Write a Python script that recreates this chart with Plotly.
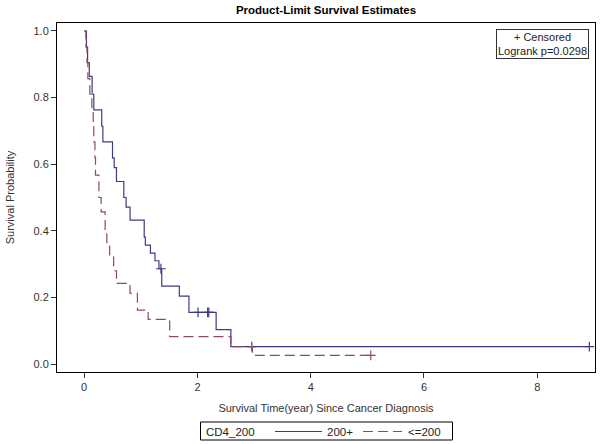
import plotly.graph_objects as go

# ---- data ----
# CD4_200 = 200+  : step times (years) and survival after each step
hi_times = [0, 0.04, 0.06, 0.09, 0.14, 0.17, 0.31, 0.33, 0.50, 0.53, 0.57, 0.70, 0.74, 0.81,
            1.06, 1.08, 1.17, 1.25, 1.32, 1.37, 1.68, 1.85, 2.33, 2.59]
hi_surv = [1.0, 0.952, 0.905, 0.864, 0.81, 0.763, 0.714, 0.667, 0.619, 0.59, 0.548, 0.50, 0.471, 0.432,
           0.381, 0.357, 0.333, 0.31, 0.286, 0.234, 0.204, 0.155, 0.103, 0.052]
hi_end = 8.92
hi_censored = [1.355, 2.01, 2.18, 2.20, 2.96, 8.92]

# CD4_200 = <=200
lo_times = [0, 0.03, 0.05, 0.065, 0.10, 0.135, 0.16, 0.17, 0.19, 0.20, 0.26, 0.30, 0.37, 0.40,
            0.45, 0.52, 0.57, 0.81, 0.94, 1.13, 1.51, 2.59, 2.97]
lo_surv = [1.0, 0.952, 0.905, 0.857, 0.81, 0.762, 0.714, 0.667, 0.619, 0.567, 0.50, 0.457, 0.40, 0.36,
           0.322, 0.28, 0.242, 0.212, 0.162, 0.134, 0.082, 0.052, 0.026]
lo_end = 5.06
lo_censored = [5.06]

group_names = ["200+", "<=200"]
legend_title = "CD4_200"
x_ticks = [0, 2, 4, 6, 8]
y_ticks = [0.0, 0.2, 0.4, 0.6, 0.8, 1.0]
logrank_p = "0.0298"

BLUE = "#3c3c86"
RED = "#8e4a5e"
FONT = "Liberation Sans, Arial, sans-serif"
RED_DASH = "10px,5px"


def step_value(times, surv, t):
    v = surv[0]
    for ti, si in zip(times, surv):
        if ti <= t:
            v = si
    return v


fig = go.Figure()

for times, surv, end, cens, name, color, dash in [
    (hi_times, hi_surv, hi_end, hi_censored, group_names[0], BLUE, "solid"),
    (lo_times, lo_surv, lo_end, lo_censored, group_names[1], RED, RED_DASH),
]:
    xs = list(times) + [end]
    ys = list(surv) + [surv[-1]]
    fig.add_trace(go.Scatter(
        x=xs, y=ys, mode="lines", name=name, showlegend=False,
        line=dict(color=color, width=1.2, dash=dash, shape="hv"),
    ))
    fig.add_trace(go.Scatter(
        x=cens, y=[step_value(times, surv, c) for c in cens], mode="markers",
        showlegend=False, hoverinfo="skip",
        marker=dict(symbol="cross-thin", size=7, line=dict(color=color, width=1.2)),
    ))

# plot area in pixels: x 57..595, y 23..372
PL, PR, PT, PB = 57, 595, 23, 372


def px(xp):
    return (xp - PL) / (PR - PL)


def py(yp):
    return (PB - yp) / (PB - PT)


fig.update_layout(
    width=600, height=444,
    margin=dict(l=PL, r=600 - PR, t=PT, b=444 - PB, autoexpand=False),
    paper_bgcolor="white", plot_bgcolor="white",
    font=dict(family=FONT, size=11, color="#333333"),
    title=dict(text="<b>Product-Limit Survival Estimates</b>", xref="paper", x=0.5, xanchor="center",
               y=0.977, yanchor="middle", font=dict(size=11.5, color="black", family=FONT)),
    showlegend=False,
)

fig.update_xaxes(
    range=[-0.48, 9.02], tickvals=x_ticks, ticks="outside", ticklen=5, tickcolor="#333",
    showline=True, linecolor="black", linewidth=1, mirror=True, showgrid=False, zeroline=False,
    title=dict(text="Survival Time(year) Since Cancer Diagnosis", standoff=12,
               font=dict(size=11, color="#333333")),
)
fig.update_yaxes(
    range=[-0.024, 1.024], tickvals=y_ticks, tickformat=".1f", ticks="outside", ticklen=5,
    tickcolor="#333", showline=True, linecolor="black", linewidth=1, mirror=True,
    showgrid=False, zeroline=False,
    title=dict(text="Survival Probability", standoff=16, font=dict(size=11, color="#333333")),
)

# inset box: censored / logrank
fig.add_annotation(
    xref="paper", yref="paper", x=px(589), y=py(29.5), xanchor="right", yanchor="top",
    text="+ Censored<br>Logrank p=" + logrank_p, showarrow=False, align="center",
    bordercolor="#333", borderwidth=1, borderpad=1, bgcolor="white",
    font=dict(size=11, color="#222222", family=FONT),
)

# legend box at the bottom (drawn like the SAS legend)
LEG_Y = 431.5
LEG_FONT = dict(size=11.5, color="#222222", family=FONT)
fig.add_shape(type="rect", xref="paper", yref="paper",
              x0=px(200.5), x1=px(452.5), y0=py(440), y1=py(422),
              line=dict(color="black", width=1), fillcolor="white", layer="above")
fig.add_annotation(xref="paper", yref="paper", x=px(204), y=py(LEG_Y), xanchor="left",
                   yanchor="middle", text=legend_title, showarrow=False, font=LEG_FONT)
fig.add_shape(type="line", xref="paper", yref="paper", x0=px(275), x1=px(322),
              y0=py(LEG_Y), y1=py(LEG_Y), line=dict(color=BLUE, width=1.2))
fig.add_annotation(xref="paper", yref="paper", x=px(325), y=py(LEG_Y), xanchor="left",
                   yanchor="middle", text=group_names[0], showarrow=False, font=LEG_FONT)
fig.add_shape(type="line", xref="paper", yref="paper", x0=px(363), x1=px(402),
              y0=py(LEG_Y), y1=py(LEG_Y), line=dict(color=RED, width=1.2, dash=RED_DASH))
fig.add_annotation(xref="paper", yref="paper", x=px(406), y=py(LEG_Y), xanchor="left",
                   yanchor="middle", text=group_names[1], showarrow=False, font=LEG_FONT)

fig.write_html("out.html", config={"displayModeBar": False},
               post_script="document.body.style.margin='0px';")
